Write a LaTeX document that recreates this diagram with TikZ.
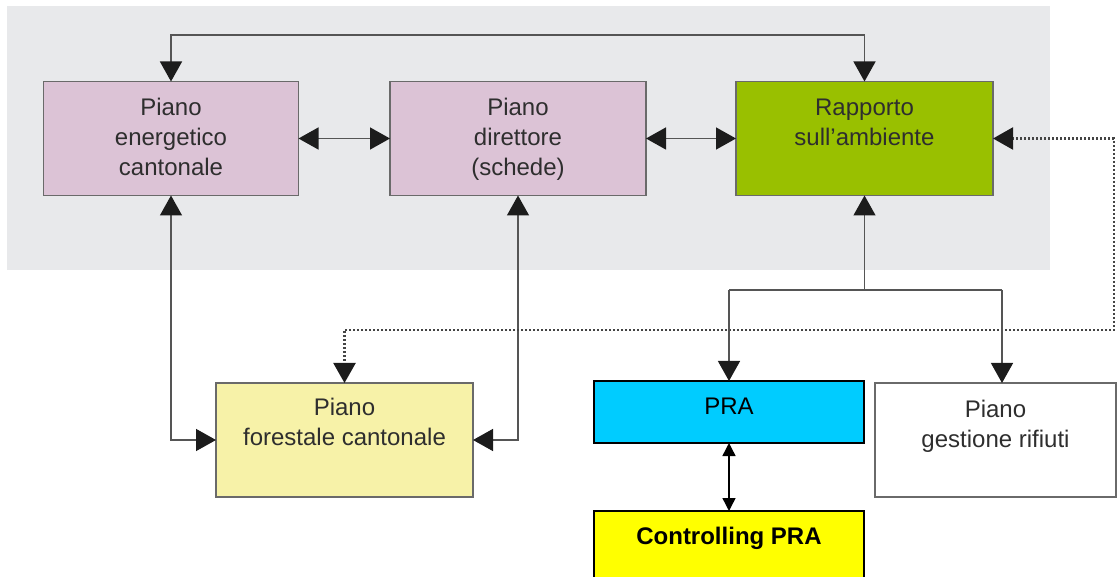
\documentclass[tikz,border=0pt]{standalone}
\usepackage{fontspec}
\setmainfont{Liberation Sans}
\usetikzlibrary{arrows.meta,calc}
\definecolor{bggrey}{HTML}{E8E9EB}
\definecolor{pinkbox}{HTML}{DCC3D6}
\definecolor{greenbox}{HTML}{99C000}
\definecolor{yelbox}{HTML}{F7F2A8}
\definecolor{prablue}{HTML}{00CCFF}
\definecolor{ctrlyel}{HTML}{FFFF00}
\definecolor{linegrey}{HTML}{555555}
\definecolor{dotgrey}{HTML}{444444}
\definecolor{tipcol}{HTML}{1C1C1C}
\definecolor{bordergrey}{HTML}{6A6A6A}
\definecolor{txtgrey}{HTML}{2E2E2E}
\begin{document}
\begin{tikzpicture}[x=1pt,y=-1pt,
  oldbox/.style={draw=bordergrey, line width=1.3pt, rectangle, inner sep=0pt, outer sep=0pt},
  newbox/.style={draw=black, line width=1.3pt, rectangle, inner sep=0pt, outer sep=0pt},
  txt/.style={align=center, inner sep=0pt, text=txtgrey, font=\fontsize{24}{30}\selectfont, anchor=north},
  ntxt/.style={align=center, inner sep=0pt, text=black, font=\fontsize{24}{30}\selectfont, anchor=north},
  conn/.style={draw=linegrey, line width=1.4pt},
  bigtip/.tip={Triangle[length=20pt,width=22pt,color=tipcol]},
  dots/.style={draw=dotgrey, line width=2.2pt, dash pattern=on 2pt off 2pt},
  smalltip/.tip={Triangle[length=13pt,width=13pt,color=black]},
  blk/.style={draw=black, line width=1.4pt}
]
\useasboundingbox (0,0) rectangle (1120,577);
% background panel
\fill[bggrey] (7,6) rectangle (1050,270);

% boxes
\node[oldbox, fill=pinkbox, minimum width=255pt, minimum height=114pt] (pec) at (171,138.5) {};
\node[oldbox, fill=pinkbox, minimum width=256pt, minimum height=114pt] (pd) at (518,138.5) {};
\node[oldbox, fill=greenbox, minimum width=257pt, minimum height=114pt] (rapp) at (864.5,138.5) {};
\node[oldbox, fill=yelbox, minimum width=257pt, minimum height=114pt] (for) at (344.5,440) {};
\node[oldbox, fill=white, minimum width=241pt, minimum height=114pt] (gest) at (995.5,440) {};
\node[newbox, fill=prablue, minimum width=270pt, minimum height=62pt] (pra) at (729,412) {};
\node[newbox, fill=ctrlyel, minimum width=270pt, minimum height=80pt] (ctrl) at (729,551) {};

% texts
\node[txt] (pect) at ($(pec.north)+(0,16)$) {Piano\\energetico\\cantonale};
\node[txt] (pdt) at ($(pd.north)+(0,16)$) {Piano\\direttore\\(schede)};
\node[txt] (rappt) at ($(rapp.north)+(0,17)$) {Rapporto\\sull’ambiente};
\node[txt] (fort) at ($(for.north)+(0,15)$) {Piano\\forestale cantonale};
\node[txt] (gestt) at ($(gest.north)+(0,17)$) {Piano\\gestione rifiuti};
\node[ntxt] (prat) at ($(pra.north)+(0,17)$) {PRA};
\node[ntxt, font=\bfseries\fontsize{24}{30}\selectfont] (ctrlt) at ($(ctrl.north)+(0,16)$) {Controlling PRA};

% coordinates
\coordinate (t1) at (pec.north |- 0,35);
\coordinate (t2) at (rapp.north |- 0,35);
\coordinate (d1) at (1114,0 |- rapp.east);
\coordinate (d2) at (1114,330);
\coordinate (d3) at (for.north |- d2);
\coordinate (j0) at (rapp.south |- 0,290);
\coordinate (j1) at (pra.north |- j0);
\coordinate (j2) at (1002,290);

% connectors
\draw[conn, {bigtip}-{bigtip}] (pec.north) -- (t1) -- (t2) -- (rapp.north);
\draw[conn, {bigtip}-{bigtip}] (pec.east) -- (pd.west);
\draw[conn, {bigtip}-{bigtip}] (pd.east) -- (rapp.west);
\draw[conn, {bigtip}-{bigtip}] (pec.south) |- (for.west);
\draw[conn, {bigtip}-{bigtip}] (pd.south) |- (for.east);
\draw[dots, {bigtip}-{bigtip}] (rapp.east) -- (d1) -- (d2) -- (d3) -- (for.north);
\draw[conn, -{bigtip}] (j0) -- (rapp.south);
\draw[conn] (j1) -- (j2);
\draw[conn, -{bigtip}] (j1) -- (pra.north);
\draw[conn, -{bigtip}] (j2) -- (j2 |- gest.north);
\draw[blk, {smalltip}-{smalltip}] (pra.south) -- (ctrl.north);
\end{tikzpicture}
\end{document}
